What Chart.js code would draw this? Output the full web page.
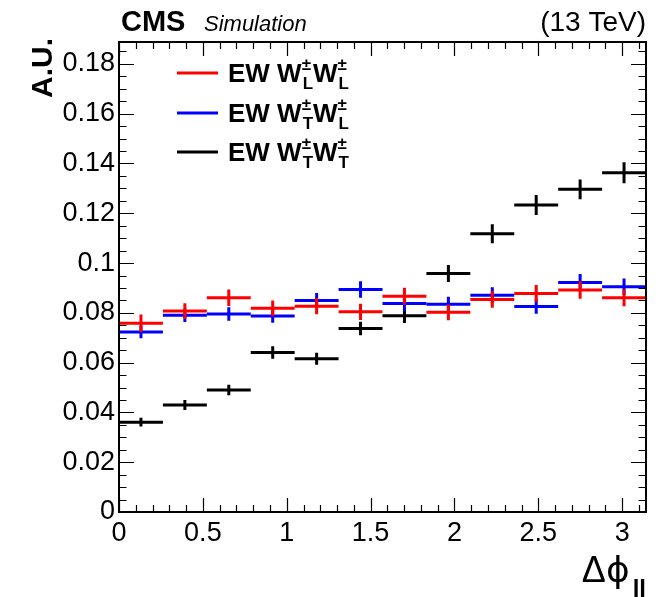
<!DOCTYPE html>
<html>
<head>
<meta charset="utf-8">
<script src="https://cdn.jsdelivr.net/npm/chart.js@4"></script>
<style>
  body { margin: 0; background: #fff; }
  canvas { display: block; }
</style>
</head>
<body>
<canvas id="chart" width="662" height="597"></canvas>
<script>
// Δφ_ll bins (12 bins from 0 to pi)
const binEdges = [0, 0.2618, 0.5236, 0.7854, 1.0472, 1.3090, 1.5708, 1.8326, 2.0944, 2.3562, 2.6180, 2.8798, 3.1416];

// normalised distributions (A.U.) and their stat. uncertainties
const wlwl = [0.0758, 0.0807, 0.0861, 0.0818, 0.0827, 0.0804, 0.0867, 0.0802, 0.0854, 0.0878, 0.0892, 0.0861];
const wlwlErr = [0.0035, 0.0032, 0.0033, 0.0032, 0.0033, 0.0033, 0.0034, 0.0032, 0.0034, 0.0034, 0.0035, 0.0034];
const wtwl = [0.0723, 0.0790, 0.0795, 0.0787, 0.0850, 0.0894, 0.0838, 0.0835, 0.0871, 0.0826, 0.0922, 0.0905];
const wtwlErr = [0.0025, 0.0027, 0.0027, 0.0027, 0.0030, 0.0033, 0.0031, 0.0030, 0.0032, 0.0030, 0.0034, 0.0033];
const wtwt = [0.0361, 0.0430, 0.0490, 0.0641, 0.0616, 0.0737, 0.0788, 0.0958, 0.1118, 0.1233, 0.1296, 0.1363];
const wtwtErr = [0.0018, 0.0020, 0.0021, 0.0025, 0.0024, 0.0027, 0.0029, 0.0034, 0.0038, 0.0040, 0.0040, 0.0042];

const xTicks = [0, 0.5, 1, 1.5, 2, 2.5, 3];
const xTickLabels = ['0', '0.5', '1', '1.5', '2', '2.5', '3'];
const yTicks = [0, 0.02, 0.04, 0.06, 0.08, 0.1, 0.12, 0.14, 0.16, 0.18];
const yTickLabels = ['0', '0.02', '0.04', '0.06', '0.08', '0.1', '0.12', '0.14', '0.16', '0.18'];

const FONT = '"Liberation Sans", Arial, sans-serif';

function points(vals, errs) {
  return vals.map((v, i) => ({
    x: (binEdges[i] + binEdges[i + 1]) / 2,
    y: v,
    xlo: binEdges[i],
    xhi: binEdges[i + 1],
    err: errs[i]
  }));
}

// horizontal bin width + vertical error bar, ROOT style
const errorBars = {
  id: 'errorBars',
  afterDatasetsDraw(chart) {
    const { ctx, scales: { x, y } } = chart;
    ctx.save();
    chart.data.datasets.forEach(ds => {
      ctx.strokeStyle = ds.borderColor;
      ctx.lineWidth = 3;
      ctx.lineCap = 'butt';
      ds.data.forEach(p => {
        const py = y.getPixelForValue(p.y);
        const px = x.getPixelForValue(p.x);
        ctx.beginPath();
        ctx.moveTo(x.getPixelForValue(p.xlo), py);
        ctx.lineTo(x.getPixelForValue(p.xhi), py);
        ctx.moveTo(px, y.getPixelForValue(p.y - p.err));
        ctx.lineTo(px, y.getPixelForValue(p.y + p.err));
        ctx.stroke();
      });
    });
    ctx.restore();
  }
};

// frame, inward ticks, titles and legend
const decorations = {
  id: 'decorations',
  afterDraw(chart) {
    const { ctx, chartArea: a, scales: { x, y } } = chart;
    ctx.save();
    ctx.strokeStyle = '#000';
    ctx.fillStyle = '#000';

    ctx.lineWidth = 1.2;
    ctx.beginPath();
    for (let v = 0; v <= 3.14; v += 0.1) {
      const major = Math.abs(v * 2 - Math.round(v * 2)) < 1e-6;
      const len = major ? 14 : 7;
      const px = Math.round(x.getPixelForValue(v)) + 0.5;
      ctx.moveTo(px, a.bottom); ctx.lineTo(px, a.bottom - len);
      ctx.moveTo(px, a.top); ctx.lineTo(px, a.top + len);
    }
    for (let v = 0; v <= 0.1885; v += 0.005) {
      const major = Math.abs(v * 50 - Math.round(v * 50)) < 1e-6;
      const len = major ? 15 : 7.5;
      const py = Math.round(y.getPixelForValue(v)) + 0.5;
      ctx.moveTo(a.left, py); ctx.lineTo(a.left + len, py);
      ctx.moveTo(a.right, py); ctx.lineTo(a.right - len, py);
    }
    ctx.stroke();

    ctx.lineWidth = 2;
    ctx.strokeRect(a.left, a.top, a.right - a.left, a.bottom - a.top);

    // header
    ctx.textBaseline = 'alphabetic';
    ctx.textAlign = 'left';
    ctx.font = 'bold 29px ' + FONT;
    ctx.fillText('CMS', 121, 31);
    ctx.font = 'italic 22px ' + FONT;
    ctx.fillText('Simulation', 204, 31);
    ctx.textAlign = 'right';
    ctx.font = '28px ' + FONT;
    ctx.fillText('(13 TeV)', a.right, 31);

    // y title
    ctx.save();
    ctx.translate(52, 38);
    ctx.rotate(-Math.PI / 2);
    ctx.textAlign = 'right';
    ctx.font = 'bold 30px ' + FONT;
    ctx.fillText('A.U.', 0, 0);
    ctx.restore();

    // x title, right-aligned to the axis end
    ctx.textAlign = 'right';
    ctx.font = 'bold 24px ' + FONT;
    ctx.fillText('ll', 646, 597);
    let xr = 646 - ctx.measureText('ll').width - 3;
    ctx.font = '36px "DejaVu Sans", ' + FONT;
    ctx.fillText('ϕ', xr, 582);
    xr -= ctx.measureText('ϕ').width;
    ctx.font = '36px ' + FONT;
    ctx.fillText('Δ', xr, 582);

    // legend
    const rows = [
      { color: '#ff0000', s1: 'L', s2: 'L', y: 73 },
      { color: '#0000ff', s1: 'T', s2: 'L', y: 113 },
      { color: '#000000', s1: 'T', s2: 'T', y: 152 }
    ];
    ctx.textAlign = 'left';
    rows.forEach(r => {
      ctx.strokeStyle = r.color;
      ctx.lineWidth = 3;
      ctx.beginPath();
      ctx.moveTo(177, r.y); ctx.lineTo(218, r.y);
      ctx.stroke();

      let tx = 228;
      const base = r.y + 9;
      ctx.fillStyle = '#000';
      ctx.font = 'bold 26px ' + FONT;
      ctx.fillText('EW W', tx, base);
      tx += ctx.measureText('EW W').width;
      [r.s1, r.s2].forEach((sub, k) => {
        ctx.font = 'bold 17px ' + FONT;
        ctx.fillText('±', tx, base - 12);
        ctx.fillText(sub, tx + 1, base + 7);
        tx += Math.max(ctx.measureText('±').width, ctx.measureText(sub).width + 1);
        if (k === 0) {
          ctx.font = 'bold 26px ' + FONT;
          ctx.fillText('W', tx, base);
          tx += ctx.measureText('W').width;
        }
      });
    });
    ctx.restore();
  }
};

const ctx = document.getElementById('chart').getContext('2d');
new Chart(ctx, {
  type: 'scatter',
  data: {
    datasets: [
      { label: 'EW WTWT', data: points(wtwt, wtwtErr), borderColor: '#000000', backgroundColor: '#000000' },
      { label: 'EW WTWL', data: points(wtwl, wtwlErr), borderColor: '#0000ff', backgroundColor: '#0000ff' },
      { label: 'EW WLWL', data: points(wlwl, wlwlErr), borderColor: '#ff0000', backgroundColor: '#ff0000' }
    ]
  },
  options: {
    responsive: false,
    animation: false,
    elements: { point: { radius: 0, hoverRadius: 0 } },
    layout: { padding: { top: 42, right: 16, left: 0, bottom: 0 } },
    plugins: { legend: { display: false }, tooltip: { enabled: false } },
    scales: {
      x: {
        type: 'linear',
        min: 0,
        max: 3.1416,
        grid: { display: false, drawTicks: false },
        border: { display: false },
        afterBuildTicks: s => { s.ticks = xTicks.map(v => ({ value: v })); },
        afterFit: s => { s.height = 85; },
        ticks: {
          color: '#000',
          font: { family: FONT, size: 27 },
          padding: 5,
          maxRotation: 0,
          autoSkip: false,
          callback: (v, i) => xTickLabels[i]
        }
      },
      y: {
        type: 'linear',
        min: 0,
        max: 0.1888,
        grid: { display: false, drawTicks: false },
        border: { display: false },
        afterBuildTicks: s => { s.ticks = yTicks.map(v => ({ value: v })); },
        afterFit: s => { s.width = 119; },
        ticks: {
          color: '#000',
          font: { family: FONT, size: 27 },
          padding: 4,
          autoSkip: false,
          callback: (v, i) => yTickLabels[i]
        }
      }
    }
  },
  plugins: [errorBars, decorations]
});
</script>
</body>
</html>
